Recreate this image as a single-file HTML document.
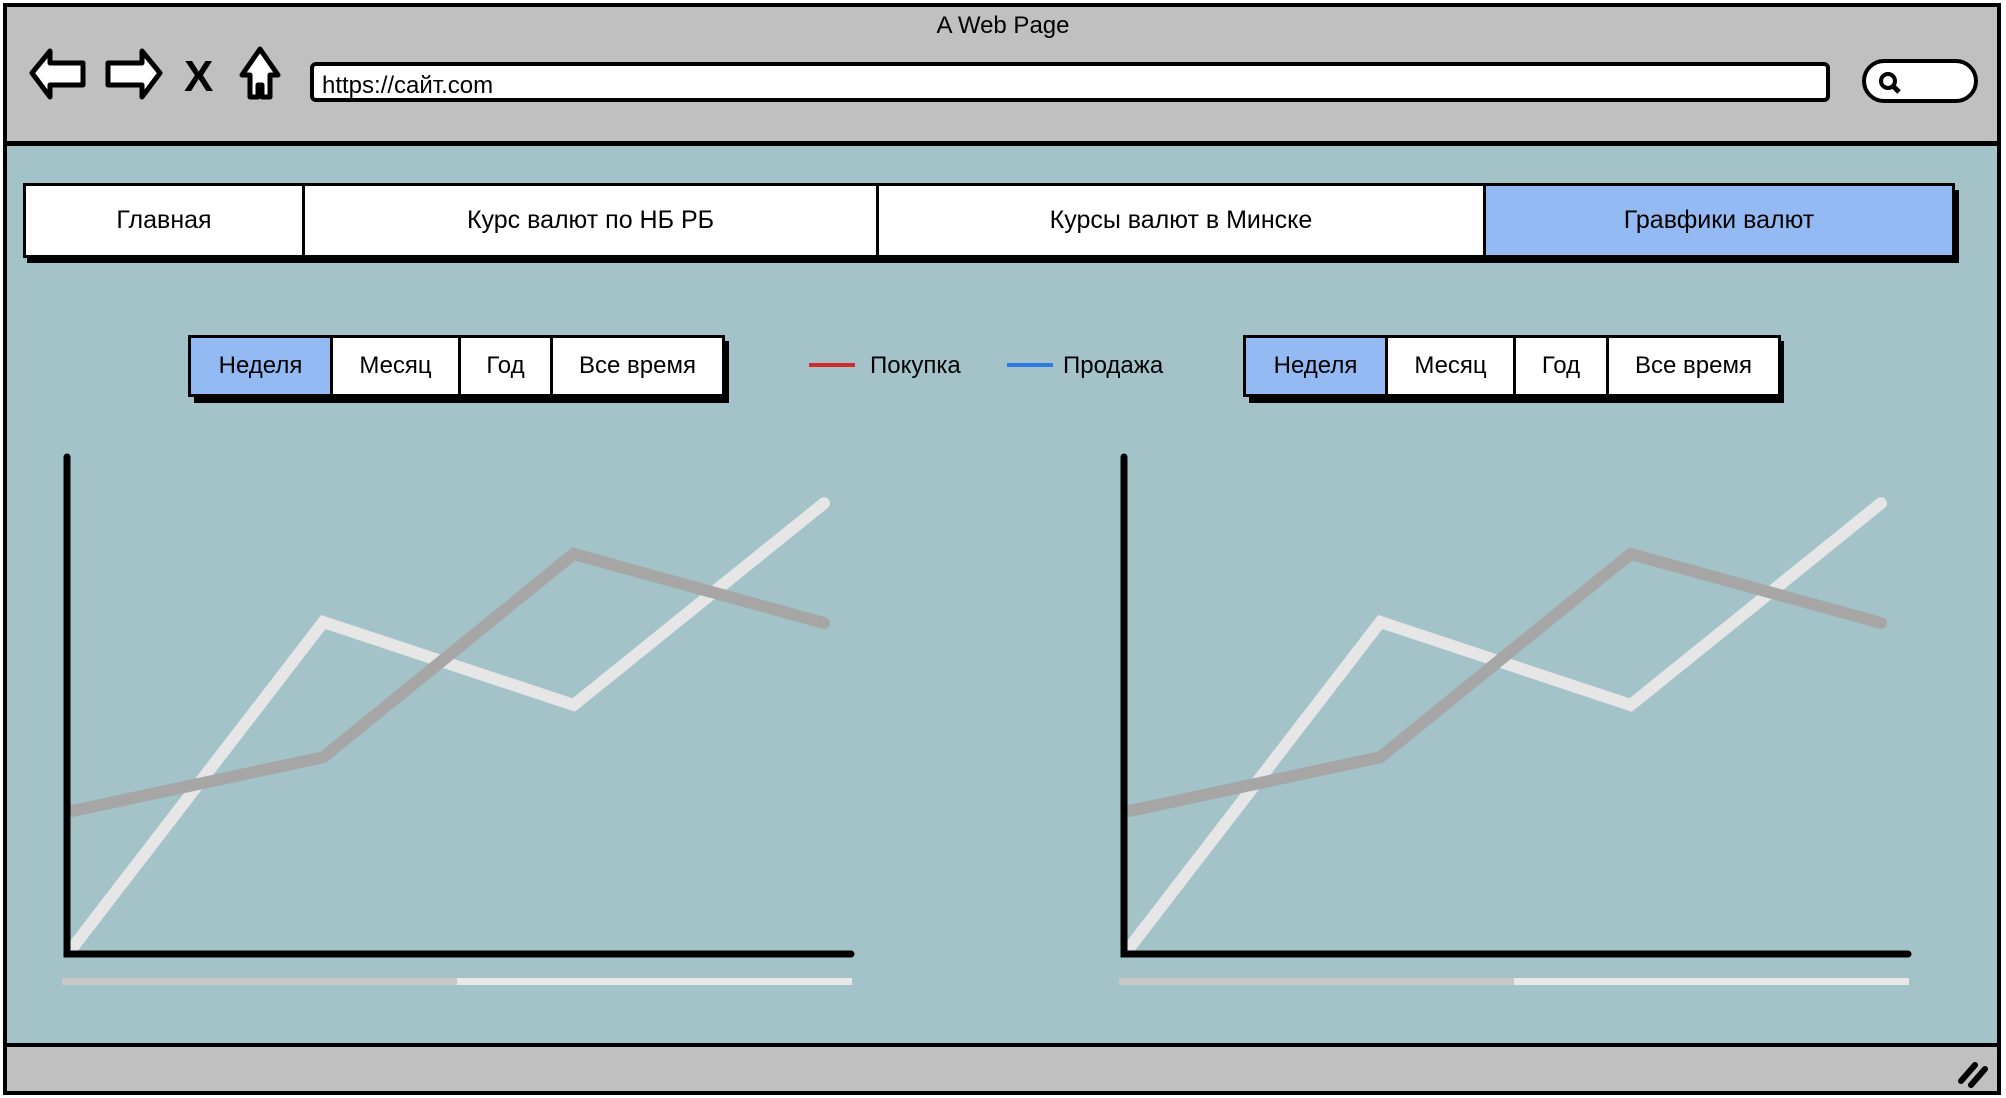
<!DOCTYPE html>
<html><head><meta charset="utf-8">
<style>
html,body{margin:0;padding:0;}
body{width:2006px;height:1098px;position:relative;overflow:hidden;background:#fff;font-family:"Liberation Sans","DejaVu Sans",sans-serif;}
.abs{position:absolute;box-sizing:border-box;}
#frame{left:3px;top:3px;width:1998px;height:1092px;border:4px solid #000;background:#a3c3c8;}
#header{left:3px;top:3px;width:1998px;height:143px;background:#c0c0c0;border:4px solid #000;border-bottom:5px solid #000;}
#footer{left:3px;top:1043px;width:1998px;height:52px;background:#c0c0c0;border:4px solid #000;}
#title{left:0;top:12px;width:2006px;text-align:center;font-size:24px;color:#000;}
#url{left:310px;top:62px;width:1520px;height:40px;background:#fff;border:4px solid #000;border-radius:6px;font-size:24px;padding:6px 8px;}
#search{left:1862px;top:59px;width:116px;height:44px;background:#fff;border:4px solid #000;border-radius:22px;}
.tab{top:183px;height:75px;background:#fff;border:3px solid #000;font-size:25px;display:flex;align-items:center;justify-content:center;}
#tabs-shadow{left:27px;top:190px;width:1932px;height:73px;background:#000;}
.btn{top:335px;height:62px;background:#fff;border:3px solid #000;font-size:24px;display:flex;align-items:center;justify-content:center;}
.bshadow{top:341px;height:62px;background:#000;}
.active{background:#94baf3;}
.leg{top:352px;font-size:24px;}
.legline{top:363px;height:4px;width:46px;}
</style></head>
<body>
<div class="abs" id="frame"></div>
<div class="abs" id="header"></div>
<div class="abs" id="title">A Web Page</div>
<svg class="abs" style="left:28px;top:45px" width="260" height="60">
 <path d="M4,28 L22,6 L22,18 L55,18 L55,40 L22,40 L22,52 Z" fill="#fff" stroke="#000" stroke-width="5" stroke-linejoin="round"/>
 <path d="M132,28 L114,6 L114,18 L80,18 L80,40 L114,40 L114,52 Z" fill="#fff" stroke="#000" stroke-width="5" stroke-linejoin="round"/>
 <text x="156" y="46" font-size="44" font-weight="bold" font-family="Liberation Sans">X</text>
 <path d="M232,4 L250,30 L242,30 L242,52 L234,52 L234,40 L230,40 L230,52 L222,52 L222,30 L214,30 Z" fill="#fff" stroke="#000" stroke-width="5" stroke-linejoin="round"/>
</svg>
<div class="abs" id="url">https://сайт.com</div>
<div class="abs" id="search">
 <svg width="40" height="36" style="position:absolute;left:8px;top:2px"><circle cx="14" cy="16" r="7" fill="none" stroke="#000" stroke-width="4"/><line x1="19" y1="21" x2="25" y2="27" stroke="#000" stroke-width="5"/></svg>
</div>

<div class="abs" id="tabs-shadow"></div>
<div class="abs tab" style="left:23px;width:282px">Главная</div>
<div class="abs tab" style="left:302px;width:577px">Курс валют по НБ РБ</div>
<div class="abs tab" style="left:876px;width:610px">Курсы валют в Минске</div>
<div class="abs tab active" style="left:1483px;width:472px">Гравфики валют</div>

<div class="abs bshadow" style="left:194px;width:535px"></div>
<div class="abs btn active" style="left:188px;width:145px">Неделя</div>
<div class="abs btn" style="left:330px;width:131px">Месяц</div>
<div class="abs btn" style="left:458px;width:95px">Год</div>
<div class="abs btn" style="left:550px;width:175px">Все время</div>

<div class="abs legline" style="left:809px;background:#d42a2a"></div>
<div class="abs leg" style="left:870px">Покупка</div>
<div class="abs legline" style="left:1007px;background:#2a7ae2"></div>
<div class="abs leg" style="left:1063px">Продажа</div>

<div class="abs bshadow" style="left:1249px;width:535px"></div>
<div class="abs btn active" style="left:1243px;width:145px">Неделя</div>
<div class="abs btn" style="left:1385px;width:131px">Месяц</div>
<div class="abs btn" style="left:1513px;width:96px">Год</div>
<div class="abs btn" style="left:1606px;width:175px">Все время</div>

<svg class="abs" id="charts" style="left:0;top:0" width="2006" height="1098"></svg>

<div class="abs" id="footer"></div>
<svg class="abs" style="left:1955px;top:1055px" width="40" height="34">
 <line x1="6" y1="26" x2="20" y2="10" stroke="#000" stroke-width="6" stroke-linecap="round"/>
 <line x1="16" y1="30" x2="30" y2="14" stroke="#000" stroke-width="6" stroke-linecap="round"/>
</svg>

<script>
const categories = ["Пн", "Вт", "Ср", "Чт"];
const lightSeries = [1.4, 66.8, 50.1, 90.7];
const darkSeries = [28.8, 39.6, 80.5, 66.6];
const NS = "http://www.w3.org/2000/svg";
const svg = document.getElementById('charts');
function drawChart(ox, idx) {
  const left = 67 + ox, right = 851 + ox, top = 457, bottom = 954;
  const x0 = 73 + ox, x1 = 824 + ox;
  const xs = i => x0 + (x1 - x0) * i / (categories.length - 1);
  const ys = v => bottom - (bottom - top) * v / 100;
  const g = document.createElementNS(NS, 'g');
  
  
  svg.appendChild(g);
  function line(vals, color, name) {
    const p = document.createElementNS(NS, 'polyline');
    p.setAttribute('points', vals.map((v, i) => xs(i) + ',' + ys(v)).join(' '));
    p.setAttribute('fill', 'none');
    p.setAttribute('stroke', color);
    p.setAttribute('stroke-width', '12');
    p.setAttribute('stroke-linecap', 'round');
    
    
    g.appendChild(p);
  }
  line(lightSeries, '#e6e6e6', 'light-series-line');
  line(darkSeries, '#a6a6a6', 'dark-series-line');
  const ax = document.createElementNS(NS, 'path');
  ax.setAttribute('d', `M${left},${top} L${left},${bottom} L${right},${bottom}`);
  ax.setAttribute('fill', 'none');
  ax.setAttribute('stroke', '#000');
  ax.setAttribute('stroke-width', '7');
  ax.setAttribute('stroke-linecap', 'round');
  
  
  g.appendChild(ax);
  const s1 = document.createElementNS(NS, 'rect');
  s1.setAttribute('x', 62 + ox); s1.setAttribute('y', 978); s1.setAttribute('width', 395); s1.setAttribute('height', 7);
  s1.setAttribute('fill', '#c8c8c8');
  
  
  g.appendChild(s1);
  const s2 = document.createElementNS(NS, 'rect');
  s2.setAttribute('x', 457 + ox); s2.setAttribute('y', 978); s2.setAttribute('width', 395); s2.setAttribute('height', 7);
  s2.setAttribute('fill', '#e8e8e8');
  
  
  g.appendChild(s2);
}
drawChart(0, 1);
drawChart(1057, 2);
</script>
</body></html>
